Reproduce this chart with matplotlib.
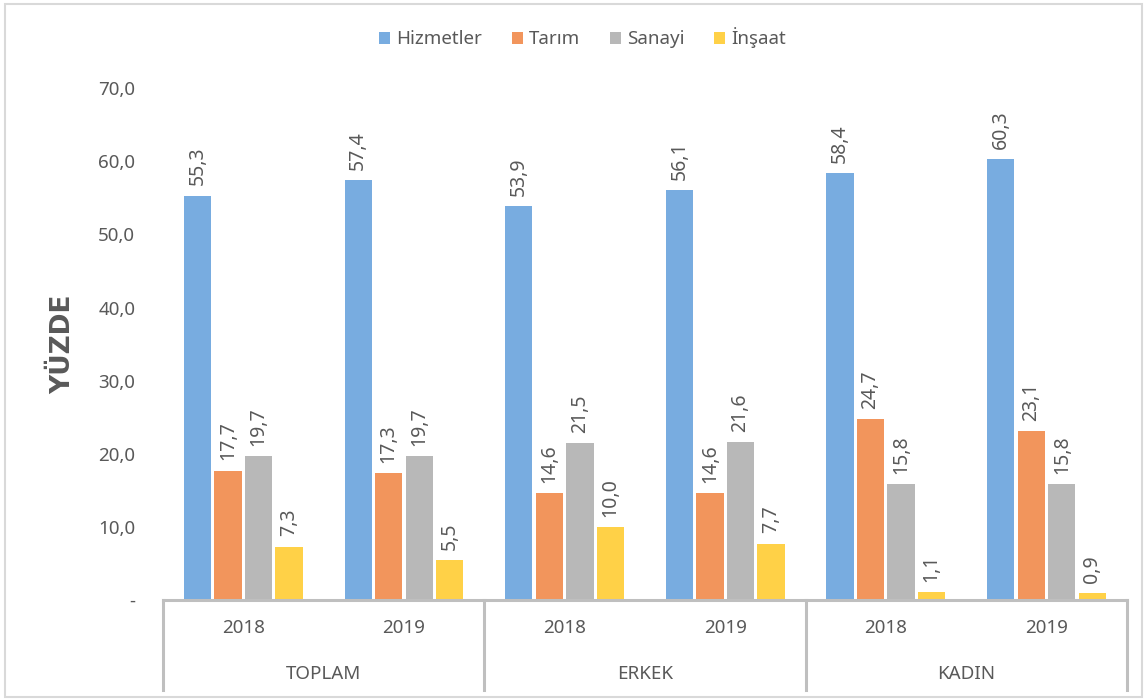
import matplotlib.pyplot as plt
from matplotlib.lines import Line2D
from matplotlib.patches import Rectangle, Patch

plt.rcParams['font.family'] = ['Noto Sans', 'DejaVu Sans']
plt.rcParams['hatch.linewidth'] = 0.45

gruplar = ['TOPLAM', 'ERKEK', 'KADIN']
yillar = ['2018', '2019', '2018', '2019', '2018', '2019']
seriler = ['Hizmetler', 'Tarım', 'Sanayi', 'İnşaat']

hizmetler = [55.3, 57.4, 53.9, 56.1, 58.4, 60.3]
tarim = [17.7, 17.3, 14.6, 14.6, 24.7, 23.1]
sanayi = [19.7, 19.7, 21.5, 21.6, 15.8, 15.8]
insaat = [7.3, 5.5, 10.0, 7.7, 1.1, 0.9]

renkler = ['#4A8FD0', '#EC752A', '#9A9A9A', '#FFBC00']
cizgi_renk = ['#78ACE0', '#F2955C', '#B8B8B8', '#FFD147']
yazi = '#595959'

fig = plt.figure(figsize=(11.44, 7), dpi=100)
ax = fig.add_axes([0.1425, 0.1429, 0.8425, 0.7311])

x = [i + 0.5 for i in range(len(yillar))]
adim = 0.19
genislik = 0.17
for j, (ad, degerler) in enumerate(zip(seriler, [hizmetler, tarim, sanayi, insaat])):
    xs = [k + (j - 1.5) * adim for k in x]
    ax.bar(xs, degerler, width=genislik, color=renkler[j], edgecolor=cizgi_renk[j],
           linewidth=0, hatch='-' * 30)
    for xi, v in zip(xs, degerler):
        ax.text(xi, v + 1.4, f'{v:.1f}'.replace('.', ','), rotation=90,
                ha='center', va='bottom', fontsize=14, color=yazi)

ax.set_xlim(0, 6)
ax.set_ylim(0, 70)
ax.set_yticks(range(0, 71, 10))
ax.set_yticklabels(['-'] + [f'{v},0' for v in range(10, 71, 10)])
ax.tick_params(axis='y', length=0, pad=20, labelsize=13.5, labelcolor=yazi)
ax.set_xticks(x)
ax.set_xticklabels(yillar)
ax.tick_params(axis='x', length=0, pad=14, labelsize=13.5, labelcolor=yazi)
for s in ['top', 'right', 'left']:
    ax.spines[s].set_visible(False)
ax.spines['bottom'].set_color('#BFBFBF')
ax.spines['bottom'].set_linewidth(2.2)

tr = ax.get_xaxis_transform()
for g, ad in enumerate(gruplar):
    ax.text(2 * g + 1, -0.145, ad, transform=tr, ha='center', va='center',
            fontsize=13.5, color=yazi)
for b in [0, 2, 4, 6]:
    ax.add_line(Line2D([b, b], [0, -0.176], transform=tr, color='#BFBFBF',
                       linewidth=2.2, clip_on=False))

ax.set_ylabel('YÜZDE', fontsize=19, fontweight='bold', family='DejaVu Sans',
              color=yazi, labelpad=16)

tutamaklar = [Patch(facecolor=renkler[j], edgecolor=cizgi_renk[j], linewidth=0,
                    hatch='-' * 30) for j in range(4)]
fig.legend(tutamaklar, seriler, loc='center', bbox_to_anchor=(0.509, 0.946),
           ncol=4, frameon=False, handlelength=0.6, handleheight=0.6,
           handletextpad=0.3, columnspacing=1.6, fontsize=13.5, labelcolor=yazi)

fig.patches.append(Rectangle((0.004, 0.004), 0.994, 0.991, transform=fig.transFigure,
                             fill=False, edgecolor='#D9D9D9', linewidth=1.5))

fig.savefig('out.png', dpi=100)
